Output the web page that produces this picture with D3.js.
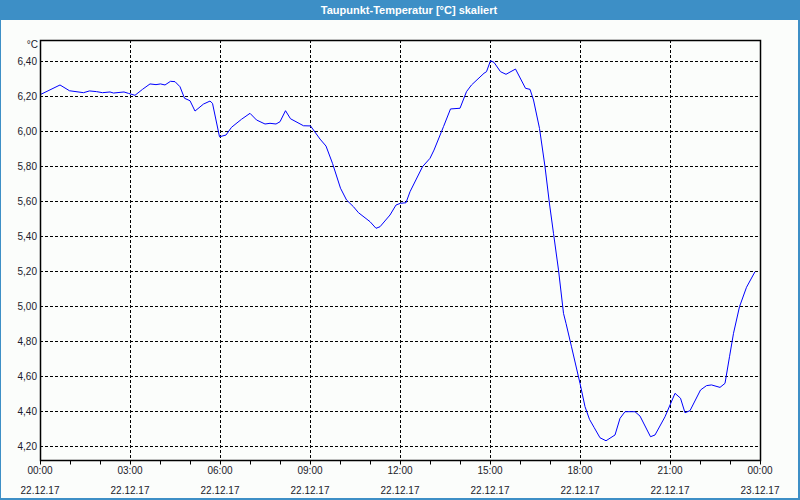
<!DOCTYPE html>
<html><head><meta charset="utf-8">
<script src="https://cdn.jsdelivr.net/npm/d3@7/dist/d3.min.js"></script>
<style>
body{margin:0;background:#fff;}
svg{display:block;}
text{font-family:"Liberation Sans",Arial,sans-serif;}
</style></head>
<body><svg id="c" width="800" height="500"></svg>
<script>
// minutes since 22.12.17 00:00
const minutes = [0,2,40,59,87,99,113,125,140,147,168,177,190,205,220,232,241,250,261,270,280,289,300,310,327,340,345,359,372,383,403,420,433,450,460,472,480,491,501,527,541,560,572,585,601,613,627,637,660,672,680,700,712,721,732,740,765,780,788,807,821,840,853,863,888,893,901,908,921,932,951,971,980,987,999,1010,1019,1027,1037,1047,1052,1063,1080,1090,1099,1108,1120,1132,1150,1160,1170,1190,1200,1221,1230,1250,1270,1281,1290,1300,1321,1333,1343,1360,1370,1379,1387,1399,1413,1430];
const dewPoint = [6.21,6.21,6.263,6.23,6.219,6.229,6.225,6.219,6.223,6.217,6.223,6.215,6.204,6.238,6.269,6.265,6.269,6.263,6.284,6.282,6.253,6.187,6.173,6.114,6.154,6.171,6.158,5.967,5.977,6.021,6.067,6.101,6.063,6.04,6.044,6.04,6.053,6.116,6.07,6.03,6.029,5.954,5.914,5.815,5.673,5.606,5.567,5.533,5.482,5.444,5.453,5.52,5.577,5.587,5.59,5.653,5.796,5.844,5.891,6.025,6.126,6.13,6.225,6.263,6.33,6.339,6.402,6.392,6.339,6.324,6.354,6.244,6.238,6.177,6.015,5.796,5.583,5.415,5.206,4.958,4.901,4.767,4.558,4.425,4.352,4.307,4.247,4.230,4.263,4.358,4.396,4.396,4.371,4.253,4.263,4.367,4.501,4.473,4.39,4.402,4.52,4.545,4.549,4.535,4.558,4.71,4.844,4.996,5.107,5.196];
const yTicks = [4.2,4.4,4.6,4.8,5.0,5.2,5.4,5.6,5.8,6.0,6.2,6.4];
const xLabelTimes = ["00:00","03:00","06:00","09:00","12:00","15:00","18:00","21:00","00:00"];
const xLabelDates = ["22.12.17","22.12.17","22.12.17","22.12.17","22.12.17","22.12.17","22.12.17","22.12.17","23.12.17"];
const title = "Taupunkt-Temperatur [°C] skaliert";
const unit = "°C";

const svg = d3.select("#c");
const W=800,H=500;
const m={l:40,t:40,r:760,b:460};
const x = d3.scaleLinear().domain([0,1440]).range([m.l,m.r]);
const y = d3.scaleLinear().domain([4.12,6.52]).range([m.b,m.t]);

// background
svg.append("rect").attr("width",W).attr("height",H).attr("fill","#fbfdfb");
// frame borders
svg.append("rect").attr("x",0).attr("y",0).attr("width",W).attr("height",20).attr("fill","#3d8fc6");
svg.append("rect").attr("x",0).attr("y",0).attr("width",1).attr("height",H).attr("fill","#3d8fc6");
svg.append("rect").attr("x",798).attr("y",0).attr("width",2).attr("height",H).attr("fill","#3d8fc6");
svg.append("rect").attr("x",0).attr("y",498).attr("width",W).attr("height",2).attr("fill","#3d8fc6");
svg.append("text").attr("x",409).attr("y",14).attr("text-anchor","middle")
  .attr("fill","#fff").attr("font-size","11px").attr("font-weight","bold").text(title);

// grid
const g = svg.append("g");
g.selectAll("line.h").data(yTicks).enter().append("line")
  .attr("x1",m.l).attr("x2",m.r).attr("y1",d=>Math.round(y(d))+0.5).attr("y2",d=>Math.round(y(d))+0.5)
  .attr("stroke","#000").attr("stroke-dasharray","3,2");
const vTicks = d3.range(180,1440,180);
g.selectAll("line.v").data(vTicks).enter().append("line")
  .attr("y1",m.t).attr("y2",m.b).attr("x1",d=>Math.round(x(d))+0.5).attr("x2",d=>Math.round(x(d))+0.5)
  .attr("stroke","#000").attr("stroke-dasharray","3,2");

// line
svg.append("path").datum(minutes.map((t,i)=>[t,dewPoint[i]]))
  .attr("d",d3.line().x(d=>x(d[0])).y(d=>y(d[1])))
  .attr("fill","none").attr("stroke","#0000ff").attr("stroke-width",1);

// plot frame
svg.append("rect").attr("x",m.l+0.5).attr("y",m.t+0.5).attr("width",m.r-m.l).attr("height",m.b-m.t)
  .attr("fill","none").attr("stroke","#000").attr("stroke-width",1.5);

// x axis ticks (hourly)
const xAxis = d3.axisBottom(x).tickValues(d3.range(0,1441,60)).tickSize(4).tickFormat("");
const xa = svg.append("g").attr("transform",`translate(0,${m.b+0.5})`).call(xAxis);
xa.select(".domain").remove();
xa.selectAll("line").attr("stroke","#000");

// x labels
const labPos = d3.range(0,1441,180);
svg.selectAll("text.xt").data(labPos).enter().append("text")
  .attr("x",d=>x(d)).attr("y",474).attr("text-anchor","middle").attr("font-size","10px").attr("fill","#1a1a2a")
  .text((d,i)=>xLabelTimes[i]);
svg.selectAll("text.xd").data(labPos).enter().append("text")
  .attr("x",d=>x(d)).attr("y",494).attr("text-anchor","middle").attr("font-size","10px").attr("fill","#1a1a2a")
  .text((d,i)=>xLabelDates[i]);

// y labels
const fmt = d=>d3.format(".2f")(d).replace(".",",");
svg.selectAll("text.yt").data(yTicks).enter().append("text")
  .attr("x",37).attr("y",d=>y(d)+4).attr("text-anchor","end").attr("font-size","10px").attr("fill","#1a1a2a")
  .text(fmt);
svg.append("text").attr("x",38).attr("y",48).attr("text-anchor","end").attr("font-size","10px").attr("fill","#1a1a2a").text(unit);
</script></body></html>
